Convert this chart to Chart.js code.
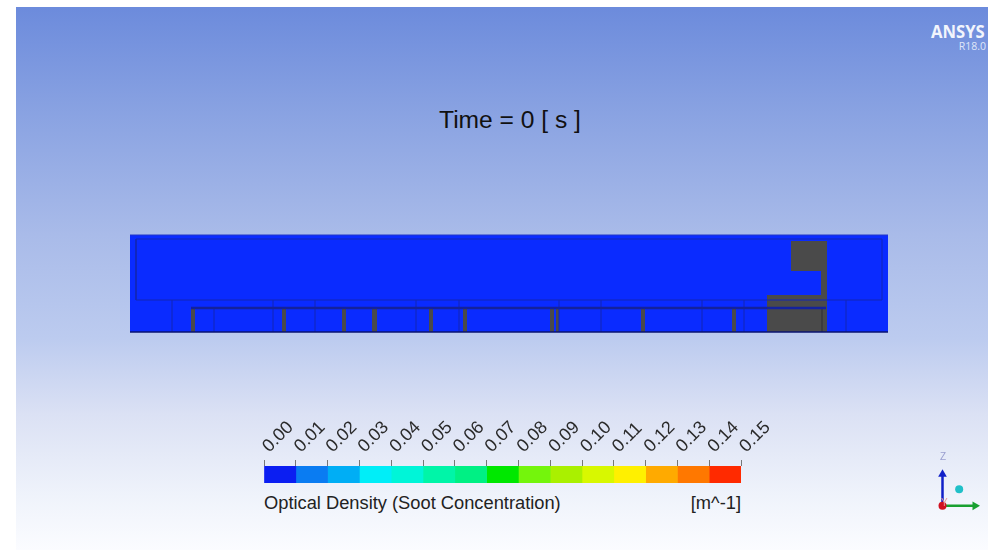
<!DOCTYPE html>
<html>
<head>
<meta charset="utf-8">
<title>Optical Density</title>
<script src="https://cdn.jsdelivr.net/npm/chart.js@4"></script>
<style>
html, body { margin: 0; padding: 0; background: #fff; }
#page { position: relative; width: 988px; height: 550px; overflow: hidden; filter: blur(0.4px); }
#bg { position: absolute; left: 16px; top: 7px; width: 972px; height: 543px;
    background: linear-gradient(#6c8bdc 0%, #8aa3e2 20%, #a9bbe9 42%, #bccbef 61%, #dbe1f4 75%, #eff3fb 90%, #fbfcff 100%); }
canvas { position: absolute; }
.txt { position: absolute; font-family: "Liberation Sans", Arial, sans-serif; color: #222; white-space: nowrap; }
</style>
</head>
<body>
<div id="page">
    <div id="bg"></div>
    <canvas id="domainChart" width="780" height="117" style="left:120px;top:225px"></canvas>
    <canvas id="legendChart" width="540" height="90" style="left:254px;top:400px"></canvas>
    <canvas id="triadChart" width="60" height="60" style="left:925px;top:460px"></canvas>
    <div class="txt" style="left:310px;width:400px;text-align:center;top:106px;font-size:24.6px;color:#111">Time = 0 [ s ]</div>
    <div class="txt" style="left:264px;top:492px;font-size:18.3px">Optical Density (Soot Concentration)</div>
    <div class="txt" style="right:247px;top:492px;font-size:18.3px">[m^-1]</div>
    <div class="txt" style="right:3px;top:18px;font-family:'Open Sans';font-weight:700;font-size:18.5px;color:#f2f5fc;transform:scaleX(.9);transform-origin:right">ANSYS</div>
    <div class="txt" style="right:2px;top:39px;font-family:'Open Sans';font-size:10.5px;color:#dfe6f8">R18.0</div>
    <div class="txt" style="left:940px;top:451px;font-size:10px;color:#9a9fd0">Z</div>
    <div class="txt" style="left:941px;top:497px;font-size:10px;color:#e89a9a">Y</div>
</div>
<script>
// floor plan, x along the room, y up from the floor
var domainX = [0, 758];
var domainY = [0, 97];
var innerBox = { x0: 6, x1: 752, y0: 32, y1: 93 };
var lowerTop = 32;
var ceilingY = 24;
var ceilingX = [61, 696];
var partitionsX = [42, 143, 185, 286, 329, 429, 471, 572, 614, 716];
var thinWallsX = [84, 692];
var pillarsX0 = [61, 152, 212, 242, 299, 333, 420, 426, 511, 602];
var pillarsX1 = [65, 156, 216, 247, 303, 337, 424, 429, 515, 606];
var shaftX = [637, 661, 691, 697];
var shaftY = [0, 37, 61, 91];

// legend
var legendTicks = [0, 0.01, 0.02, 0.03, 0.04, 0.05, 0.06, 0.07, 0.08, 0.09, 0.1, 0.11, 0.12, 0.13, 0.14, 0.15];
var legendLabels = ['0.00', '0.01', '0.02', '0.03', '0.04', '0.05', '0.06', '0.07', '0.08', '0.09', '0.10', '0.11', '0.12', '0.13', '0.14', '0.15'];
var legendColors = ['#0b1ef2', '#0a7cf2', '#00aef5', '#00eef8', '#00f5d8', '#00f5a8', '#00f084', '#00e800', '#74f50c', '#aaf000', '#d8f800', '#fff000', '#ffaa00', '#ff7800', '#ff2a00'];

// triad
var triadOrigin = { x: 15, y: 11 };
var triadZ = { x: 15, y: 49 };
var triadY = { x: 54, y: 11 };
var triadDot = { x: 35, y: 31 };

function rectPoints(x0, x1, y0, y1) {
    return [{ x: x0, y: y0 }, { x: x1, y: y0 }, { x: x1, y: y1 }, { x: x0, y: y1 }, { x: x0, y: y0 }];
}
function solid(points, color, order) {
    return { data: points, showLine: true, fill: 'shape', backgroundColor: color, borderColor: color, borderWidth: 0, pointRadius: 0, tension: 0, order: order };
}
function outline(points, color, width, order) {
    return { data: points, showLine: true, fill: false, borderColor: color, borderWidth: width, pointRadius: 0, tension: 0, order: order, clip: false };
}

var lineColor = '#1226b4';
var grey = '#4a4a4a';
var datasets = [];

datasets.push(solid(rectPoints(domainX[0], domainX[1], domainY[0], domainY[1]), '#0a2bff', 10));

pillarsX0.forEach(function(x0, i) {
    datasets.push(solid(rectPoints(x0, pillarsX1[i], domainY[0], ceilingY), grey, 8));
});
datasets.push(solid([
    { x: shaftX[0], y: shaftY[0] }, { x: shaftX[3], y: shaftY[0] }, { x: shaftX[3], y: shaftY[3] },
    { x: shaftX[1], y: shaftY[3] }, { x: shaftX[1], y: shaftY[2] }, { x: shaftX[2], y: shaftY[2] },
    { x: shaftX[2], y: shaftY[1] }, { x: shaftX[0], y: shaftY[1] }, { x: shaftX[0], y: shaftY[0] }
], grey, 8));

datasets.push(outline(rectPoints(innerBox.x0, innerBox.x1, innerBox.y0, innerBox.y1), lineColor, 1, 5));
partitionsX.forEach(function(x) {
    datasets.push(outline([{ x: x, y: domainY[0] }, { x: x, y: lowerTop }], lineColor, 1, 5));
});
thinWallsX.forEach(function(x) {
    datasets.push(outline([{ x: x, y: domainY[0] }, { x: x, y: ceilingY }], x > shaftX[0] ? '#2c2c34' : lineColor, 1, 5));
});
datasets.push(outline([{ x: ceilingX[0], y: ceilingY }, { x: ceilingX[1], y: ceilingY }], '#14229c', 2.5, 4));
datasets.push(outline([{ x: domainX[0], y: domainY[0] }, { x: domainX[1], y: domainY[0] }], '#0b1470', 1.5, 3));
datasets.push(outline([{ x: domainX[0], y: domainY[1] }, { x: domainX[1], y: domainY[1] }], '#2236c8', 1, 3));

new Chart(document.getElementById('domainChart'), {
    type: 'scatter',
    data: { datasets: datasets },
    options: {
        responsive: false,
        animation: false,
        events: [],
        layout: { padding: { left: 10, right: 12, top: 10, bottom: 10 } },
        plugins: { legend: { display: false }, tooltip: { enabled: false } },
        scales: {
            x: { type: 'linear', display: false, min: domainX[0], max: domainX[1] },
            y: { type: 'linear', display: false, min: domainY[0], max: domainY[1] }
        }
    }
});

var bands = legendColors.map(function(c, i) {
    return { data: [[legendTicks[i], legendTicks[i + 1]]], backgroundColor: c, grouped: false, barPercentage: 1, categoryPercentage: 1 };
});

new Chart(document.getElementById('legendChart'), {
    type: 'bar',
    data: { labels: ['Optical Density (Soot Concentration)'], datasets: bands },
    options: {
        indexAxis: 'y',
        responsive: false,
        animation: false,
        events: [],
        layout: { padding: { left: 10, right: 53, top: 0, bottom: 7 } },
        plugins: { legend: { display: false }, tooltip: { enabled: false } },
        scales: {
            x: {
                type: 'linear',
                position: 'top',
                min: 0,
                max: 0.15,
                afterBuildTicks: function(scale) {
                    scale.ticks = legendTicks.map(function(v) { return { value: v }; });
                },
                afterFit: function(scale) {
                    scale.height = 66;
                    scale.paddingLeft = 0;
                    scale.paddingRight = 0;
                },
                border: { display: false },
                grid: { drawOnChartArea: false, drawTicks: true, tickLength: 6, color: '#777' },
                ticks: {
                    autoSkip: false,
                    minRotation: 45,
                    maxRotation: 45,
                    padding: 3,
                    labelOffset: 17,
                    color: '#2a2a2a',
                    font: { family: '"Liberation Sans", Arial, sans-serif', size: 18 },
                    callback: function(v, i) { return legendLabels[i]; }
                }
            },
            y: { display: false }
        }
    }
});

new Chart(document.getElementById('triadChart'), {
    type: 'scatter',
    data: {
        datasets: [
            { data: [triadOrigin], pointRadius: 4, backgroundColor: '#d01020', borderWidth: 0 },
            { data: [triadZ], pointStyle: 'triangle', pointRadius: 5, backgroundColor: '#1020c8', borderWidth: 0 },
            { data: [triadY], pointStyle: 'triangle', rotation: 90, pointRadius: 5, backgroundColor: '#18a030', borderWidth: 0 },
            { data: [triadDot], pointRadius: 4, backgroundColor: '#20c0c8', borderWidth: 0 },
            { data: [triadOrigin, triadZ], showLine: true, borderColor: '#1020c8', borderWidth: 2.5, pointRadius: 0 },
            { data: [triadOrigin, triadY], showLine: true, borderColor: '#18a030', borderWidth: 2.5, pointRadius: 0 }
        ]
    },
    options: {
        responsive: false,
        animation: false,
        events: [],
        plugins: { legend: { display: false }, tooltip: { enabled: false } },
        scales: {
            x: { type: 'linear', display: false, min: 0, max: 60 },
            y: { type: 'linear', display: false, min: 0, max: 60 }
        }
    }
});
</script>
</body>
</html>
